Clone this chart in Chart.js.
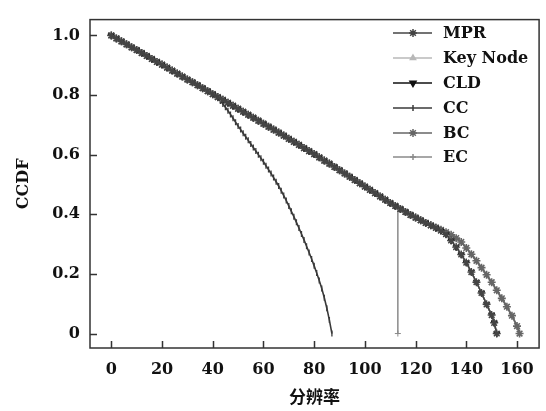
<!DOCTYPE html>
<html>
<head>
<meta charset="utf-8">
<script src="https://cdn.jsdelivr.net/npm/chart.js@4/dist/chart.umd.min.js"></script>
<style>
  html, body { margin: 0; padding: 0; background: #fff; }
  canvas { display: block; }
</style>
</head>
<body>
<canvas id="chart" width="546" height="411"></canvas>
<script>
// shared straight part of every curve (x = 0..126, step 2)
const baseX = [0, 2, 4, 6, 8, 10, 12, 14, 16, 18, 20, 22, 24, 26, 28, 30, 32, 34, 36, 38,
    40, 42, 44, 46, 48, 50, 52, 54, 56, 58, 60, 62, 64, 66, 68, 70, 72, 74, 76, 78,
    80, 82, 84, 86, 88, 90, 92, 94, 96, 98, 100, 102, 104, 106, 108, 110, 112, 114, 116, 118,
    120, 122, 124, 126];
const baseY = [1.000, 0.990, 0.980, 0.970, 0.960, 0.951, 0.941, 0.931, 0.921, 0.911,
    0.902, 0.892, 0.882, 0.872, 0.862, 0.852, 0.843, 0.833, 0.823, 0.813,
    0.803, 0.793, 0.784, 0.774, 0.764, 0.754, 0.744, 0.734, 0.724, 0.714,
    0.704, 0.694, 0.684, 0.674, 0.664, 0.653, 0.643, 0.633, 0.622, 0.612,
    0.602, 0.591, 0.580, 0.570, 0.559, 0.548, 0.537, 0.526, 0.515, 0.504,
    0.493, 0.482, 0.471, 0.460, 0.449, 0.438, 0.428, 0.418, 0.408, 0.398,
    0.389, 0.380, 0.371, 0.363];

// CC leaves the common line at 40
const ccX = [41, 42, 43, 44, 45, 46, 47, 48, 49, 50, 51, 52, 53, 54, 55, 56, 57, 58, 59, 60,
    61, 62, 63, 64, 65, 66, 67, 68, 69, 70, 71, 72, 73, 74, 75, 76, 77, 78, 79, 80,
    81, 82, 83, 84, 85, 86, 87];
const ccY = [0.797, 0.789, 0.780, 0.770, 0.759, 0.747, 0.735, 0.722, 0.709, 0.696,
    0.684, 0.672, 0.660, 0.648, 0.636, 0.624, 0.612, 0.600, 0.588, 0.576,
    0.563, 0.550, 0.537, 0.523, 0.509, 0.495, 0.479, 0.463, 0.446, 0.428,
    0.410, 0.392, 0.373, 0.354, 0.334, 0.314, 0.293, 0.272, 0.250, 0.227,
    0.203, 0.178, 0.151, 0.120, 0.085, 0.045, 0.000];

// EC drops straight down at 113
const ecX = [113, 113];
const ecY = [0.423, 0.000];

// MPR / Key Node / CLD end at 152
const lowX = [128, 130, 132, 134, 136, 138, 140, 142, 144, 146, 148, 150, 151, 152];
const lowY = [0.354, 0.345, 0.333, 0.312, 0.290, 0.265, 0.238, 0.206, 0.172, 0.136, 0.098, 0.062, 0.036, 0.000];

// BC ends at 161
const bcX = [128, 130, 132, 134, 136, 138, 140, 142, 144, 146, 148, 150, 152, 154, 156, 158, 160, 161];
const bcY = [0.356, 0.348, 0.340, 0.331, 0.320, 0.307, 0.287, 0.266, 0.244, 0.221, 0.197, 0.172, 0.145, 0.118, 0.090, 0.060, 0.025, 0.000];

const xTicks = [0, 20, 40, 60, 80, 100, 120, 140, 160];
const yTicks = [0, 0.2, 0.4, 0.6, 0.8, 1.0];

function series(lastBaseX, tailX, tailY) {
    const pts = [];
    baseX.forEach((x, i) => { if (x <= lastBaseX) pts.push({ x: x, y: baseY[i] }); });
    tailX.forEach((x, i) => pts.push({ x: x, y: tailY[i] }));
    return pts;
}

const serif = "'DejaVu Serif', serif";

const datasets = [
    { label: 'MPR', data: series(126, lowX, lowY), borderColor: '#444', backgroundColor: '#444',
      pointStyle: 'star', pointRadius: 4, pointBorderWidth: 1.4, borderWidth: 1.5 },
    { label: 'Key Node', data: series(126, lowX, lowY), borderColor: '#b8b8b8', backgroundColor: '#b8b8b8',
      pointStyle: 'triangle', pointRadius: 3, pointBorderWidth: 1, borderWidth: 1.5 },
    { label: 'CLD', data: series(126, lowX, lowY), borderColor: '#111', backgroundColor: '#111',
      pointStyle: 'triangle', pointRotation: 180, pointRadius: 3.5, pointBorderWidth: 1, borderWidth: 1.5 },
    { label: 'CC', data: series(40, ccX, ccY), borderColor: '#3a3a3a', backgroundColor: '#3a3a3a',
      pointStyle: 'line', pointRotation: 90, pointRadius: 3, pointBorderWidth: 1.3, borderWidth: 1.6 },
    { label: 'BC', data: series(126, bcX, bcY), borderColor: '#666', backgroundColor: '#666',
      pointStyle: 'star', pointRadius: 4, pointBorderWidth: 1.6, borderWidth: 2 },
    { label: 'EC', data: series(112, ecX, ecY), borderColor: '#8a8a8a', backgroundColor: '#8a8a8a',
      pointStyle: 'cross', pointRadius: 3, pointBorderWidth: 1, borderWidth: 1.5 }
];

// frame, inward ticks and the legend inside the plot
const extras = {
    id: 'extras',
    afterDraw(chart) {
        const c = chart.ctx;
        const a = chart.chartArea;
        const xs = chart.scales.x, ys = chart.scales.y;
        c.save();
        c.strokeStyle = '#333';
        c.lineWidth = 1.5;
        c.strokeRect(a.left, a.top, a.right - a.left, a.bottom - a.top);
        c.beginPath();
        xTicks.forEach(v => {
            const px = Math.round(xs.getPixelForValue(v)) + 0.5;
            c.moveTo(px, a.bottom); c.lineTo(px, a.bottom - 7);
        });
        yTicks.forEach(v => {
            const py = Math.round(ys.getPixelForValue(v)) + 0.5;
            c.moveTo(a.left, py); c.lineTo(a.left + 7, py);
        });
        c.stroke();

        const rows = [33, 58, 83, 108, 133, 157];
        c.font = "bold 16px " + serif;
        c.textBaseline = 'middle';
        c.textAlign = 'left';
        datasets.forEach((ds, i) => {
            const y = rows[i];
            c.strokeStyle = ds.borderColor;
            c.fillStyle = ds.backgroundColor;
            c.lineWidth = 1.5;
            c.beginPath();
            c.moveTo(393, y); c.lineTo(432, y);
            c.stroke();
            Chart.helpers.drawPoint(c, {
                pointStyle: ds.pointStyle, rotation: ds.pointRotation || 0,
                radius: ds.pointRadius, borderWidth: ds.pointBorderWidth
            }, 413, y);
            c.fillStyle = '#111';
            c.fillText(ds.label, 443, y + 1);
        });
        c.restore();
    }
};

new Chart(document.getElementById('chart'), {
    type: 'line',
    data: { datasets: datasets },
    options: {
        responsive: false,
        animation: false,
        layout: { padding: { top: 8, right: 3, left: 0, bottom: 0 } },
        elements: { line: { tension: 0 } },
        plugins: { legend: { display: false }, tooltip: { enabled: false } },
        scales: {
            x: {
                type: 'linear', min: -8.4, max: 168.7,
                afterFit: s => { s.height = 63; },
                afterBuildTicks: s => { s.ticks = xTicks.map(v => ({ value: v })); },
                grid: { display: false, drawTicks: false },
                border: { display: false },
                ticks: { padding: 12, color: '#111', font: { family: serif, size: 16, weight: 'bold' } },
                title: { display: true, text: '分辨率', color: '#111', align: 'center', padding: { top: 0, bottom: 4 },
                         font: { family: "'Noto Sans CJK SC', sans-serif", size: 17, weight: 'bold' } }
            },
            y: {
                min: -0.0485, max: 1.053,
                afterFit: s => { s.width = 90; },
                afterBuildTicks: s => { s.ticks = yTicks.map(v => ({ value: v })); },
                grid: { display: false, drawTicks: false },
                border: { display: false },
                ticks: { padding: 10, color: '#111', font: { family: serif, size: 16, weight: 'bold' },
                         callback: v => v === 0 ? '0' : v.toFixed(1) },
                title: { display: true, text: 'CCDF', color: '#111', padding: { top: 14, bottom: 0 },
                         font: { family: serif, size: 16, weight: 'bold' } }
            }
        }
    },
    plugins: [extras]
});
</script>
</body>
</html>
